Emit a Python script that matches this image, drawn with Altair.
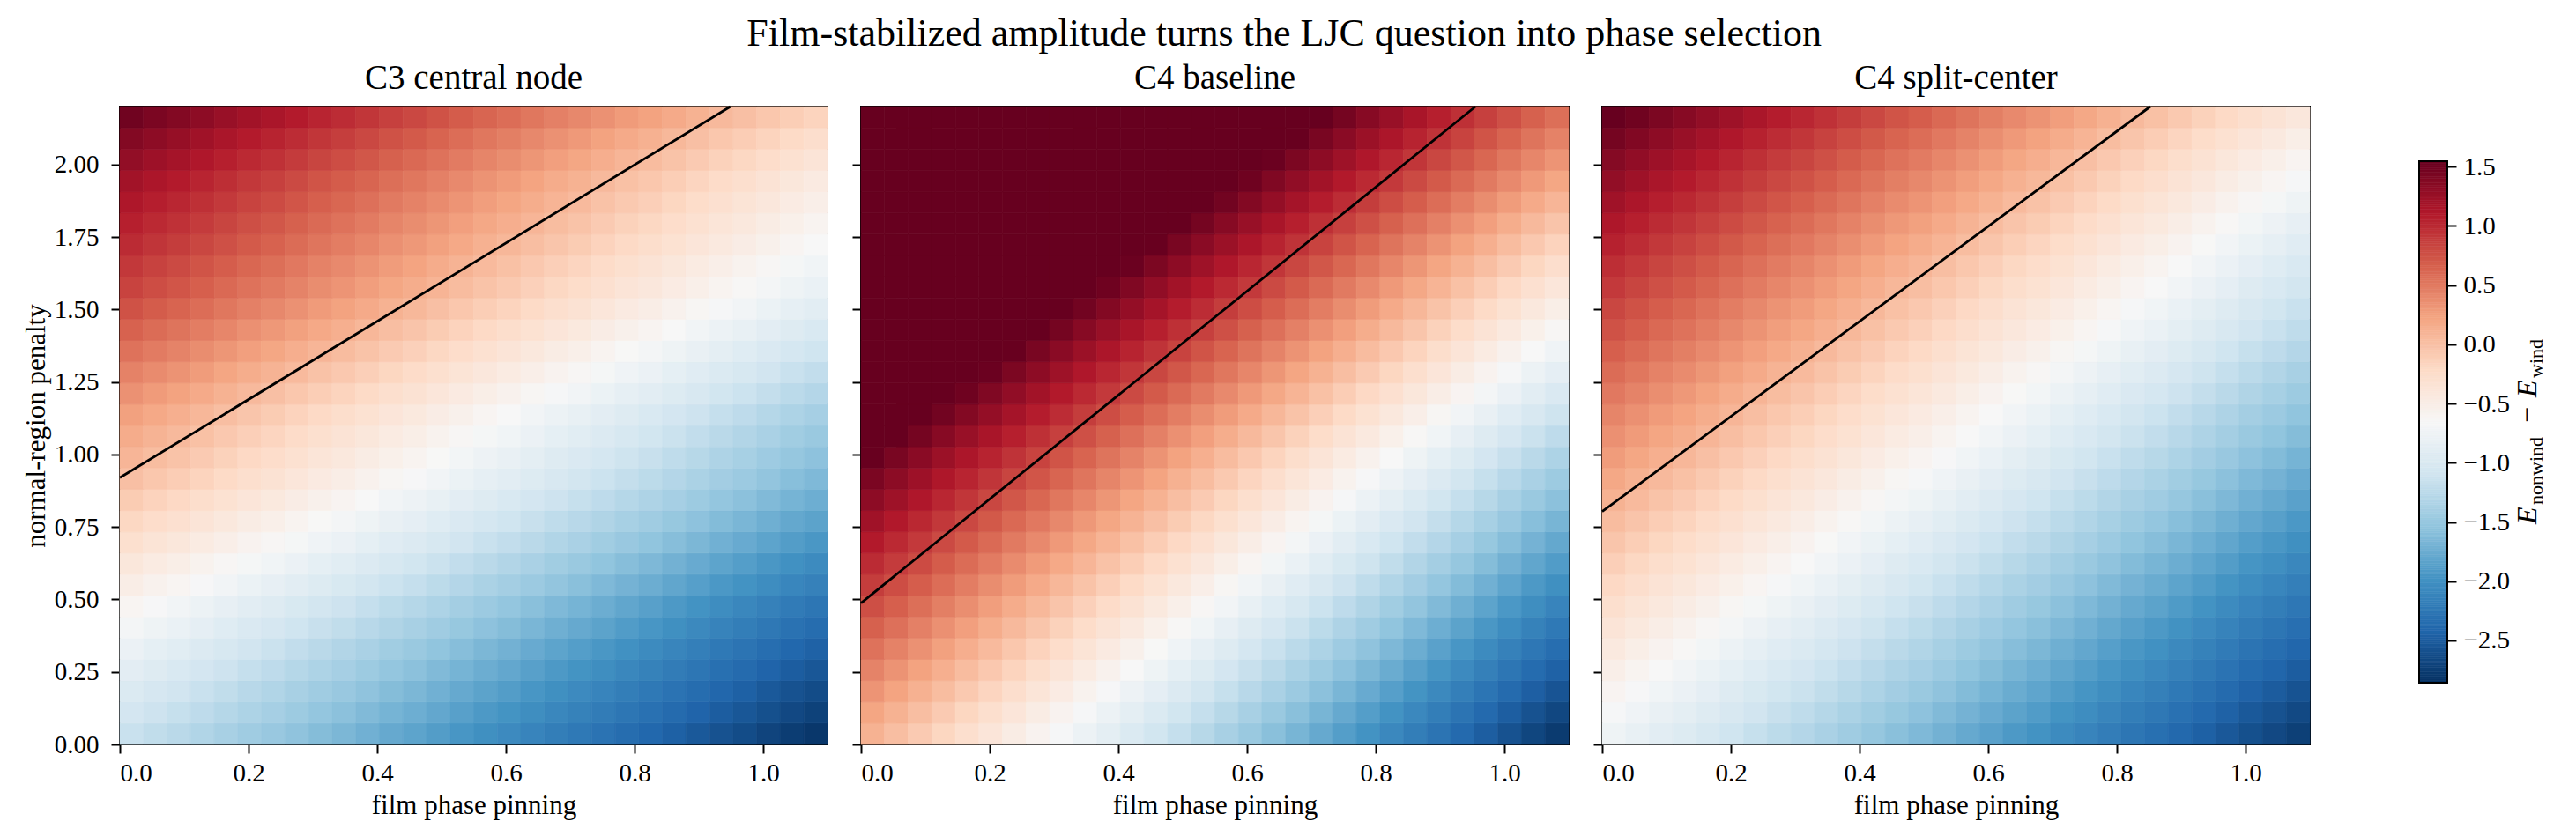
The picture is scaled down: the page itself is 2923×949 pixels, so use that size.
import altair as alt
import pandas as pd

# ---------------- data ----------------
# cell edges of the 30 x 30 grids
pinning_edges = [0.0, 0.0367, 0.0733, 0.11, 0.1467, 0.1833, 0.22, 0.2567, 0.2933, 0.33,
                 0.3667, 0.4033, 0.44, 0.4767, 0.5133, 0.55, 0.5867, 0.6233, 0.66, 0.6967,
                 0.7333, 0.77, 0.8067, 0.8433, 0.88, 0.9167, 0.9533, 0.99, 1.0267, 1.0633, 1.1]
penalty_edges = [0.0, 0.0733, 0.1467, 0.22, 0.2933, 0.3667, 0.44, 0.5133, 0.5867, 0.66,
                 0.7333, 0.8067, 0.88, 0.9533, 1.0267, 1.1, 1.1733, 1.2467, 1.32, 1.3933,
                 1.4667, 1.54, 1.6133, 1.6867, 1.76, 1.8333, 1.9067, 1.98, 2.0533, 2.1267, 2.2]

# energy difference along the x=0 column (bottom -> top) and shift along x (left -> right)
c3_rows = [-1.15, -1.06, -0.98, -0.89, -0.80, -0.70, -0.61, -0.50, -0.40, -0.29,
           -0.19, -0.09, 0.01, 0.09, 0.17, 0.25, 0.35, 0.45, 0.55, 0.65,
           0.75, 0.84, 0.91, 0.99, 1.06, 1.13, 1.20, 1.29, 1.38, 1.49]
c3_cols = [0.00, -0.06, -0.11, -0.17, -0.23, -0.29, -0.34, -0.40, -0.46, -0.51,
           -0.57, -0.63, -0.68, -0.74, -0.80, -0.86, -0.91, -0.97, -1.03, -1.08,
           -1.14, -1.20, -1.25, -1.31, -1.37, -1.43, -1.48, -1.54, -1.60, -1.65]

c4b_rows = [0.12, 0.22, 0.33, 0.44, 0.55, 0.66, 0.77, 0.88, 0.99, 1.10,
            1.21, 1.32, 1.43, 1.54, 1.66, 1.78, 1.90, 2.02, 2.14, 2.26,
            2.38, 2.50, 2.62, 2.74, 2.86, 2.98, 3.10, 3.22, 3.34, 3.46]
c4b_cols = [0.00, -0.10, -0.20, -0.30, -0.40, -0.50, -0.60, -0.70, -0.80, -0.90,
            -1.00, -1.10, -1.20, -1.30, -1.40, -1.50, -1.60, -1.70, -1.80, -1.90,
            -2.00, -2.10, -2.20, -2.30, -2.40, -2.50, -2.60, -2.70, -2.80, -2.89]

c4s_rows = [-0.76, -0.68, -0.60, -0.52, -0.44, -0.36, -0.28, -0.20, -0.12, -0.04,
            0.04, 0.12, 0.20, 0.28, 0.36, 0.43, 0.51, 0.59, 0.67, 0.75,
            0.82, 0.90, 0.97, 1.05, 1.13, 1.21, 1.29, 1.37, 1.46, 1.56]
c4s_cols = [0.00, -0.07, -0.14, -0.20, -0.27, -0.34, -0.41, -0.48, -0.54, -0.61,
            -0.68, -0.75, -0.82, -0.88, -0.95, -1.02, -1.09, -1.16, -1.22, -1.29,
            -1.36, -1.43, -1.50, -1.56, -1.63, -1.70, -1.77, -1.84, -1.90, -1.97]

# black boundary lines (two end points each)
c3_line_x = [0.0, 0.949]
c3_line_y = [0.92, 2.2]
c4b_line_x = [0.0, 0.955]
c4b_line_y = [0.4875, 2.2]
c4s_line_x = [0.0, 0.852]
c4s_line_y = [0.803, 2.2]

titles = ["C3 central node", "C4 baseline", "C4 split-center"]
x_ticks = [0.0, 0.2, 0.4, 0.6, 0.8, 1.0]
y_ticks = [0.0, 0.25, 0.5, 0.75, 1.0, 1.25, 1.5, 1.75, 2.0]
cbar_ticks = [-2.5, -2.0, -1.5, -1.0, -0.5, 0.0, 0.5, 1.0, 1.5]
vmin, vmax = -2.857, 1.545

# ---------------- styling ----------------
FONT = "Liberation Serif"
rdbu_r = ["#053061", "#2166ac", "#4393c3", "#92c5de", "#d1e5f0", "#f7f7f7",
          "#fddbc7", "#f4a582", "#d6604d", "#b2182b", "#67001f"]
stops = [vmin + (vmax - vmin) * i / 10 for i in range(11)]
cscale = alt.Scale(domain=stops, range=rdbu_r, clamp=True, interpolate="rgb")

W, H = 803, 724


def grid_frame(rows, cols):
    recs = []
    for r in range(30):
        for c in range(30):
            recs.append({
                "x0": pinning_edges[c], "x1": pinning_edges[c + 1],
                "y0": penalty_edges[r], "y1": penalty_edges[r + 1],
                "E": round(rows[r] + cols[c], 4),
            })
    return pd.DataFrame(recs)


def panel(idx, rows, cols, lx, ly):
    xs = alt.Scale(domain=[0, 1.1], nice=False, zero=False)
    ys = alt.Scale(domain=[0, 2.2], nice=False, zero=False)
    xaxis = alt.Axis(values=x_ticks, format=".1f", title="film phase pinning",
                     labelPadding=8, titlePadding=7)
    if idx == 0:
        yaxis = alt.Axis(values=y_ticks, format=".2f", title="normal-region penalty",
                         labelPadding=14, titlePadding=4)
    else:
        yaxis = alt.Axis(values=y_ticks, labels=False, title=None)
    heat = alt.Chart(grid_frame(rows, cols)).mark_rect(strokeWidth=0.7).encode(
        x=alt.X("x0:Q", scale=xs, axis=xaxis),
        x2="x1:Q",
        y=alt.Y("y0:Q", scale=ys, axis=yaxis),
        y2="y1:Q",
        color=alt.Color("E:Q", scale=cscale, legend=None),
        stroke=alt.Stroke("E:Q", scale=cscale, legend=None),
    )
    line = alt.Chart(pd.DataFrame({"x": lx, "y": ly})).mark_line(
        color="black", strokeWidth=2.8).encode(x="x:Q", y="y:Q")
    return alt.layer(heat, line).properties(
        width=W, height=H,
        title=alt.TitleParams(titles[idx], fontSize=39, font=FONT,
                              fontWeight="normal", color="black", offset=6),
    )


p1 = panel(0, c3_rows, c3_cols, c3_line_x, c3_line_y)
p2 = panel(1, c4b_rows, c4b_cols, c4b_line_x, c4b_line_y)
p3 = panel(2, c4s_rows, c4s_cols, c4s_line_x, c4s_line_y)

# ---------------- colorbar ----------------
n = 240
cb = pd.DataFrame({
    "lo": [vmin + (vmax - vmin) * i / n for i in range(n)],
    "hi": [vmin + (vmax - vmin) * (i + 1) / n for i in range(n)],
})
cb["mid"] = (cb["lo"] + cb["hi"]) / 2
CBW = 118
bar_x0 = 86
bar_top, bar_bot = 62, 654
px_per = (bar_bot - bar_top) / (vmax - vmin)
cb_top = vmax + bar_top / px_per
cb_bot = vmin - (H - bar_bot) / px_per
cys = alt.Scale(domain=[cb_bot, cb_top], nice=False, zero=False)

cbar = alt.Chart(cb).mark_rect(strokeWidth=0.6).encode(
    x=alt.value(bar_x0), x2=alt.value(CBW),
    y=alt.Y("lo:Q", scale=cys,
            axis=alt.Axis(orient="right", values=cbar_ticks, format=".1f",
                          title=None, labelPadding=8)),
    y2="hi:Q",
    color=alt.Color("mid:Q", scale=cscale, legend=None),
    stroke=alt.Stroke("mid:Q", scale=cscale, legend=None),
)
cframe = alt.Chart(pd.DataFrame({"a": [vmin], "b": [vmax]})).mark_rect(
    fillOpacity=0, stroke="black", strokeWidth=2).encode(
    x=alt.value(bar_x0), x2=alt.value(CBW),
    y=alt.Y("a:Q", scale=cys), y2="b:Q")

lab_x = 219
sub_x = 226
pieces = [
    ("E", 474, 32, "italic", lab_x),
    ("nonwind", 452, 22, "normal", sub_x),
    ("\u2212", 359, 32, "normal", lab_x),
    ("E", 330, 32, "italic", lab_x),
    ("wind", 308, 22, "normal", sub_x),
]
label_layers = []
for txt, yy, fs, style, xx in pieces:
    label_layers.append(
        alt.Chart(pd.DataFrame({"t": [txt]})).mark_text(
            angle=270, align="left", baseline="alphabetic", font=FONT,
            fontSize=fs, fontStyle=style, color="black").encode(
            text="t:N", x=alt.value(xx), y=alt.value(yy)))

cpanel = alt.layer(cbar, cframe, *label_layers).properties(
    width=CBW, height=H, view=alt.ViewBackground(stroke="transparent"))

chart = alt.hconcat(p1, p2, p3, cpanel, spacing=38, bounds="flush").properties(
    title=alt.TitleParams(
        "Film-stabilized amplitude turns the LJC question into phase selection",
        fontSize=44, font=FONT, fontWeight="normal", color="black",
        anchor="middle", offset=8),
    padding={"left": 24, "top": 17, "right": 5, "bottom": 5},
).resolve_scale(color="shared").configure(background="white").configure_axis(
    labelFont=FONT, titleFont=FONT, labelFontSize=29, titleFontSize=31,
    titleFontWeight="normal", labelColor="black", titleColor="black",
    tickColor="black", tickWidth=2, tickSize=10, domain=False, grid=False,
).configure_view(stroke="black", strokeWidth=2)

chart.save("out.html", embed_options={"renderer": "svg", "actions": False})
